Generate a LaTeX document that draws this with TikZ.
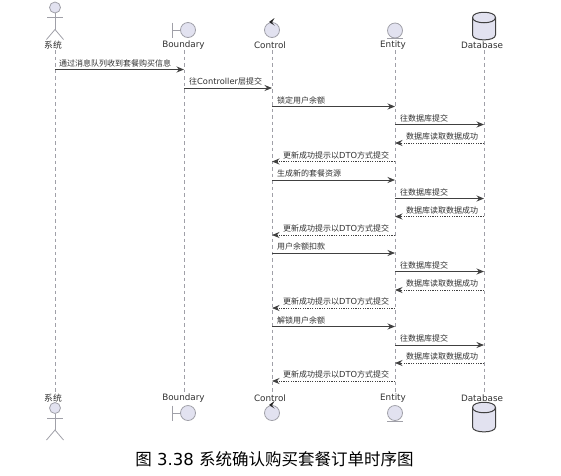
\documentclass[tikz,border=0pt]{standalone}
\usepackage{fontspec}
\setmainfont{DejaVu Sans}
\newfontfamily\cjk{Noto Sans CJK SC}
\usetikzlibrary{arrows.meta}
\definecolor{partfill}{HTML}{E2E2F0}
\definecolor{partline}{HTML}{A0A0A8}
\definecolor{msgline}{HTML}{404040}
\definecolor{txt}{HTML}{303030}
\tikzset{
  x=1pt,y=-1pt,
  lifeline/.style={draw=partline,line width=.7pt,dash pattern=on 3.5pt off 3pt},
  partshape/.style={draw=partline,fill=partfill,line width=.8pt},
  partstroke/.style={draw=partline,fill=none,line width=.8pt},
  dbshape/.style={draw=black!75,fill=partfill,line width=1pt},
  partlabel/.style={inner sep=0pt,font=\fontsize{8.8}{10}\selectfont,text=txt},
  msg/.style={draw=msgline,line width=.8pt,-{Stealth[length=7.5pt,width=6pt,inset=2.5pt]}},
  reply/.style={msg,dash pattern=on 1.2pt off 1.2pt},
  msglabel/.style={inner sep=0pt,font=\fontsize{8.3}{9}\selectfont,text=txt},
  caption/.style={inner sep=0pt,font=\fontsize{16.5}{18}\selectfont,text=black}
}
\newcommand{\Msg}[6]{% name, style, from lifeline, to lifeline, y, label
  \coordinate (#1s) at (#3 |- 0,#5);
  \coordinate (#1e) at (#4 |- 0,#5);
  \draw[#2] (#1s) -- (#1e);
  #6
}
\newcommand{\Lab}[4]{\node[msglabel,anchor=base west] (#1) at (#2,#3) {#4};}
\newcommand{\Actor}[2]{%
  \draw[partshape] (#1,#2) circle (5.5);
  \draw[partstroke] (#1,#2+5.5) -- (#1,#2+22);
  \draw[partstroke] (#1-8,#2+10) -- (#1+8,#2+10);
  \draw[partstroke] (#1-8.5,#2+32) -- (#1,#2+22) -- (#1+8.5,#2+32);
}
\newcommand{\Bound}[2]{%
  \draw[partstroke] (#1-16,#2-7.5) -- (#1-16,#2+7.5);
  \draw[partstroke] (#1-16,#2) -- (#1-7.5,#2);
  \draw[partshape] (#1,#2) circle (7.5);
}
\newcommand{\Ctrl}[2]{%
  \draw[partshape] (#1,#2) circle (7.5);
  \fill[black!85] (#1+2.5,#2-12) -- (#1-3,#2-8) -- (#1+2.5,#2-4.5) -- (#1,#2-7.5) -- cycle;
}
\newcommand{\Ent}[2]{%
  \draw[partshape] (#1,#2) circle (7.5);
  \draw[partstroke] (#1-8,#2+8.3) -- (#1+8,#2+8.3);
}
\newcommand{\DB}[3]{% x, top, bottom
  \draw[dbshape] (#1-11.5,#2+5.5) -- (#1-11.5,#3-5)
    .. controls (#1-11.5,#3+1.5) and (#1+11.5,#3+1.5) .. (#1+11.5,#3-5)
    -- (#1+11.5,#2+5.5)
    .. controls (#1+11.5,#2-1.5) and (#1-11.5,#2-1.5) .. (#1-11.5,#2+5.5) -- cycle;
  \draw[dbshape,fill=none] (#1-11.5,#2+5.5)
    .. controls (#1-11.5,#2+12.5) and (#1+11.5,#2+12.5) .. (#1+11.5,#2+5.5);
}
\newcommand{\cj}[1]{{\cjk\fontsize{8}{9}\selectfont #1}}
\newcommand{\TxtDb}{\cj{往数据库提交}}
\newcommand{\TxtRd}{\cj{数据库读取数据成功}}
\newcommand{\TxtDto}{\cj{更新成功提示以}DTO\cj{方式提交}}
\begin{document}
\begin{tikzpicture}
\useasboundingbox (0,0) rectangle (561,475);
% participant labels
\node[partlabel] (a1) at (53,45) {\cjk 系统};
\node[partlabel] (a2) at (183.5,45) {Boundary};
\node[partlabel] (a3) at (270,45) {Control};
\node[partlabel] (a4) at (393,45) {Entity};
\node[partlabel] (a5) at (482,45) {Database};
\node[partlabel] (b1) at (53,398) {\cjk 系统};
\node[partlabel] (b2) at (183.5,398) {Boundary};
\node[partlabel] (b3) at (270,398) {Control};
\node[partlabel] (b4) at (393,398) {Entity};
\node[partlabel] (b5) at (482,398) {Database};
% lifelines
\coordinate (t1) at (55,50);  \coordinate (u1) at (55,392);
\coordinate (t2) at (184,50); \coordinate (u2) at (184,392);
\coordinate (t3) at (272,50); \coordinate (u3) at (272,392);
\coordinate (t4) at (395,50); \coordinate (u4) at (395,392);
\coordinate (t5) at (484,50); \coordinate (u5) at (484,392);
\foreach \i in {1,...,5}{\draw[lifeline] (t\i) -- (u\i);}
% heads
\Actor{55}{7.5}
\Bound{188}{30}
\Ctrl{272}{30}
\Ent{395}{30.5}
\DB{484}{12}{40}
\Actor{55}{408}
\Bound{188}{413}
\Ctrl{272}{413}
\Ent{395}{413}
\DB{484}{402}{432}
% messages
\Msg{m1}{msg}{t1}{t2}{69.5}{\Lab{l1}{59}{66}{\cj{通过消息队列收到套餐购买信息}}}
\Msg{m2}{msg}{t2}{t3}{88}{\Lab{l2}{189}{84.5}{\cj{往}Controller\cj{层提交}}}
\Msg{m3}{msg}{t3}{t4}{106.5}{\Lab{l3}{277}{103}{\cj{锁定用户余额}}}
\Msg{m4}{msg}{t4}{t5}{124.5}{\Lab{l4}{400}{121}{\TxtDb}}
\Msg{m5}{reply}{t5}{t4}{143}{\Lab{l5}{406}{139.5}{\TxtRd}}
\Msg{m6}{reply}{t4}{t3}{161.5}{\Lab{l6}{283}{158}{\TxtDto}}
\Msg{m7}{msg}{t3}{t4}{180}{\Lab{l7}{277}{176.5}{\cj{生成新的套餐资源}}}
\Msg{m8}{msg}{t4}{t5}{198.5}{\Lab{l8}{400}{195}{\TxtDb}}
\Msg{m9}{reply}{t5}{t4}{216.5}{\Lab{l9}{406}{213}{\TxtRd}}
\Msg{m10}{reply}{t4}{t3}{235}{\Lab{l10}{283}{231.5}{\TxtDto}}
\Msg{m11}{msg}{t3}{t4}{253}{\Lab{l11}{277}{249.5}{\cj{用户余额扣款}}}
\Msg{m12}{msg}{t4}{t5}{271.5}{\Lab{l12}{400}{268}{\TxtDb}}
\Msg{m13}{reply}{t5}{t4}{290}{\Lab{l13}{406}{286.5}{\TxtRd}}
\Msg{m14}{reply}{t4}{t3}{308}{\Lab{l14}{283}{304.5}{\TxtDto}}
\Msg{m15}{msg}{t3}{t4}{326.5}{\Lab{l15}{277}{323}{\cj{解锁用户余额}}}
\Msg{m16}{msg}{t4}{t5}{345}{\Lab{l16}{400}{341.5}{\TxtDb}}
\Msg{m17}{reply}{t5}{t4}{363}{\Lab{l17}{406}{359.5}{\TxtRd}}
\Msg{m18}{reply}{t4}{t3}{381}{\Lab{l18}{283}{377.5}{\TxtDto}}
% caption
\node[caption] (cap) at (274.5,459) {{\cjk 图} 3.38 {\cjk 系统确认购买套餐订单时序图}};
\end{tikzpicture}
\end{document}
